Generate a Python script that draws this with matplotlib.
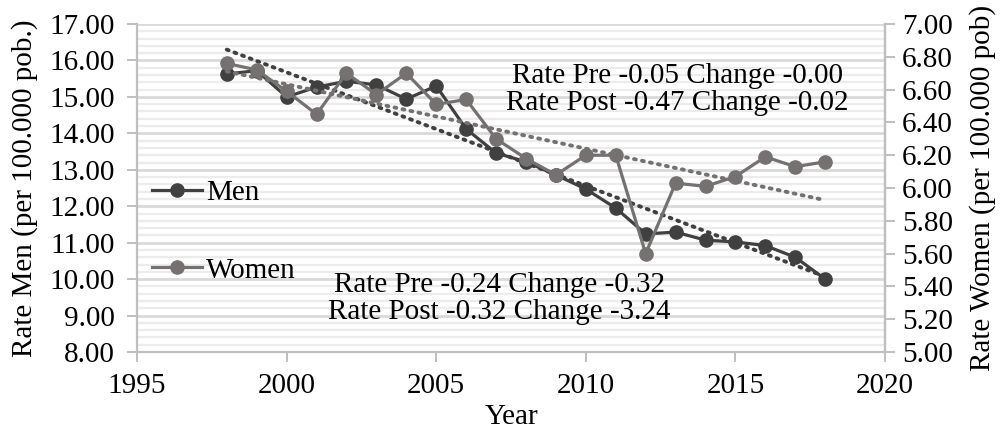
import matplotlib
matplotlib.use("Agg")
import matplotlib.pyplot as plt
import numpy as np
from matplotlib.ticker import MultipleLocator, FormatStrFormatter

years = [1998, 1999, 2000, 2001, 2002, 2003, 2004, 2005, 2006, 2007, 2008,
         2009, 2010, 2011, 2012, 2013, 2014, 2015, 2016, 2017, 2018]
men = [15.63, 15.72, 15.00, 15.27, 15.43, 15.33, 14.94, 15.30, 14.12, 13.46, 13.22,
       12.86, 12.47, 11.95, 11.24, 11.29, 11.07, 11.02, 10.92, 10.60, 10.00]
women = [6.76, 6.72, 6.59, 6.45, 6.70, 6.57, 6.70, 6.51, 6.54, 6.30, 6.18,
         6.08, 6.20, 6.20, 5.60, 6.03, 6.01, 6.07, 6.19, 6.13, 6.16]

text_women = "Rate Pre -0.05 Change -0.00\nRate Post -0.47 Change -0.02"
text_men = "Rate Pre -0.24 Change -0.32\nRate Post -0.32 Change -3.24"

plt.rcParams['font.family'] = ['Liberation Serif', 'DejaVu Serif']
FS = 21
MEN_C = '#404040'
WOM_C = '#767171'
SPINE_C = '#bfbfbf'

fig = plt.figure(figsize=(10.04, 4.37), dpi=100)
ax = fig.add_axes([0.1365, 0.1945, 0.745, 0.7505])
ax2 = ax.twinx()

x = np.array(years, dtype=float)
pm = np.polyfit(x, men, 1)
pw = np.polyfit(x, women, 1)

ax.plot(x, men, color=MEN_C, lw=2.3, marker='o', ms=9.5, label='Men', zorder=3)
ax.plot(x, np.polyval(pm, x), color=MEN_C, lw=2.8, ls=(0, (0.5, 1.6)),
        dash_capstyle='round', zorder=4)
ax2.plot(x, women, color=WOM_C, lw=2.3, marker='o', ms=9.5, label='Women', zorder=3)
ax2.plot(x, np.polyval(pw, x), color=WOM_C, lw=2.8, ls=(0, (0.5, 1.6)),
         dash_capstyle='round', zorder=4)

ax.set_xlim(1995, 2020)
ax.set_ylim(8, 17)
ax2.set_ylim(5, 7)

ax.xaxis.set_major_locator(MultipleLocator(5))
ax.yaxis.set_major_locator(MultipleLocator(1))
ax.yaxis.set_minor_locator(MultipleLocator(0.2))
ax2.yaxis.set_major_locator(MultipleLocator(0.2))
ax.yaxis.set_major_formatter(FormatStrFormatter('%.2f'))
ax2.yaxis.set_major_formatter(FormatStrFormatter('%.2f'))

ax.grid(True, which='major', axis='y', color='#d9d9d9', lw=2.0)
ax.grid(True, which='minor', axis='y', color='#ececec', lw=1.6)
ax.set_axisbelow(True)

for a in (ax, ax2):
    a.spines['top'].set_visible(False)
    for s in ('left', 'right', 'bottom'):
        a.spines[s].set_color(SPINE_C)
        a.spines[s].set_linewidth(1.6)
    a.tick_params(axis='both', which='major', labelsize=FS, length=7, width=1.4,
                  color=SPINE_C, direction='out', pad=9)
ax.tick_params(axis='x', which='major', pad=8)
ax.tick_params(axis='y', which='minor', length=0)
ax2.tick_params(axis='y', which='major', pad=5)
ax2.spines['left'].set_visible(False)
ax2.spines['bottom'].set_visible(False)

ax.set_xlabel('Year', fontsize=FS, labelpad=4)
ax.set_ylabel('Rate Men (per 100.000 pob.)', fontsize=FS, labelpad=8)
ax2.set_ylabel('Rate Women (per 100.000 pob)', fontsize=FS, labelpad=12)

ax2.text(2013.05, 6.60, text_women, fontsize=FS, ha='center', va='center',
         linespacing=1.08, zorder=6)
ax.text(2007.1, 9.47, text_men, fontsize=FS, ha='center', va='center',
        linespacing=1.08, zorder=6)

h1, l1 = ax.get_legend_handles_labels()
h2, l2 = ax2.get_legend_handles_labels()
leg = ax2.legend(h1 + h2, l1 + l2, loc='upper left', bbox_to_anchor=(-0.007, 0.5875),
                 frameon=False, fontsize=FS, handlelength=1.7, handletextpad=0.15,
                 labelspacing=1.75, borderaxespad=0.3)

fig.savefig('out.png', dpi=100)
